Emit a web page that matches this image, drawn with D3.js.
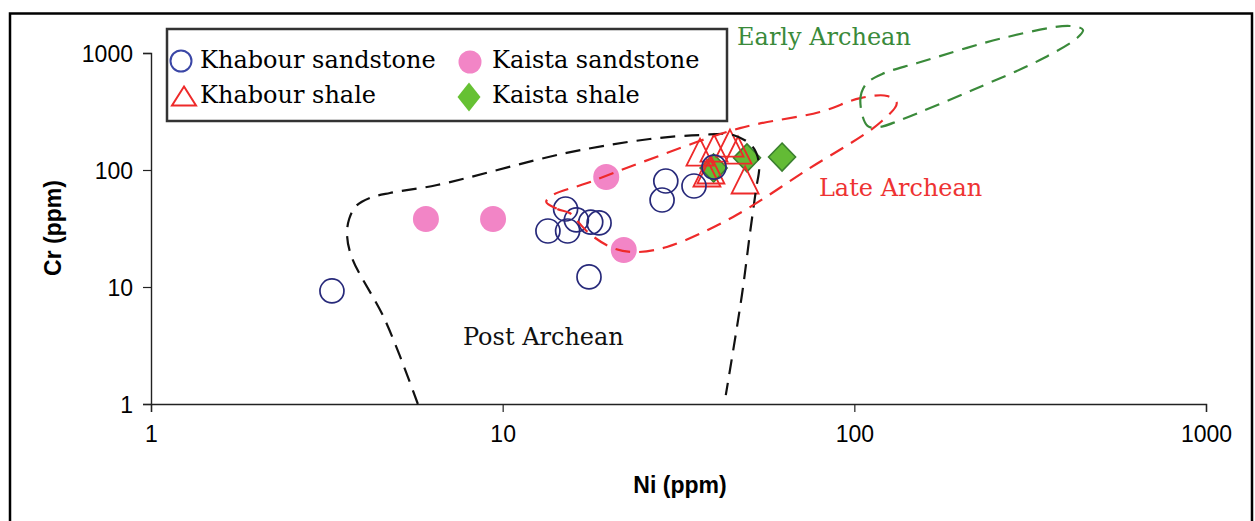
<!DOCTYPE html>
<html>
<head>
<meta charset="utf-8">
<script src="https://cdn.jsdelivr.net/npm/d3@7"></script>
<style>
  body { margin: 0; background: #fff; }
  svg { display: block; }
</style>
</head>
<body>
<svg id="chart"></svg>
<script>
// chart values
const khabourSandstoneNi = [3.27, 13.45, 15.1, 15.3, 16.2, 17.8, 18.8, 17.6, 29.1, 28.4, 35.0, 39.9];
const khabourSandstoneCr = [9.25, 30.1, 46.4, 30.1, 37.4, 35.9, 35.3, 12.2, 80.5, 55.4, 73.0, 106];
const kaistaSandstoneNi = [6.05, 9.39, 19.7, 22.1];
const kaistaSandstoneCr = [38.1, 38.1, 87.2, 20.7];
const khabourShaleNi = [36.4, 39.9, 44.3, 46.7, 38.1, 39.1, 48.9];
const khabourShaleCr = [142, 154, 170, 148, 94.3, 100, 82.1];
const kaistaShaleNi = [39.8, 49.5, 62.3];
const kaistaShaleCr = [104, 127, 129];

// field outlines (Ni, Cr)
const postArcheanNi = [5.74, 4.63, 3.73, 3.61, 3.66, 3.83, 4.19, 4.78, 6.51, 15.2, 26.2, 36.4, 45.2, 51.5, 53.6, 52.5, 50.5, 47.9, 43.1];
const postArcheanCr = [1.0, 5.22, 17.7, 27.8, 38.1, 49.2, 57.6, 63.6, 74.4, 140, 184, 199, 199, 157, 110, 67.5, 28.9, 8.54, 1.19];
const lateArcheanNi = [13.3, 14.3, 15.5, 16.4, 17.7, 20.6, 23.8, 29.3, 45.2, 73.3, 118, 132, 124, 104, 79.8, 47.3, 24.6, 17.4, 13.9];
const lateArcheanCr = [53.3, 46.4, 42.9, 35.9, 28.4, 21.5, 19.9, 22.0, 39.7, 100, 252, 374, 429, 412, 313, 228, 115, 77.4, 61.2];
const earlyArcheanNi = [109, 104, 108, 120, 151, 272, 410, 447, 430, 337, 217, 135, 118];
const earlyArcheanCr = [238, 397, 543, 662, 821, 1370, 1702, 1573, 1343, 871, 483, 267, 233];

const fieldNames = ["Post Archean", "Late Archean", "Early Archean"];
const fieldLabelNi = [7.71, 79.3, 46.4];
const fieldLabelCr = [3.19, 59.9, 1170];

const seriesNames = ["Khabour sandstone", "Kaista sandstone", "Khabour shale", "Kaista shale"];
const tickValues = [1, 10, 100, 1000];

const width = 1255;
const height = 521;
const svg = d3.select("#chart").attr("width", width).attr("height", height);

const x = d3.scaleLog().domain([1, 1000]).range([151, 1206]);
const y = d3.scaleLog().domain([1, 1000]).range([404, 53]);

const zip = (a, b) => a.map((v, i) => [v, b[i]]);

// outer frame
svg.append("path")
  .attr("d", "M10,521 V13.5 H1252 V521")
  .attr("fill", "none").attr("stroke", "#000").attr("stroke-width", 2.5);

// axes
const xAxis = svg.append("g").attr("transform", "translate(0,404)")
  .call(d3.axisBottom(x).tickValues(tickValues).tickFormat(d3.format("d")).tickSize(8).tickPadding(14));
const yAxis = svg.append("g").attr("transform", "translate(151,0)")
  .call(d3.axisLeft(y).tickValues(tickValues).tickFormat(d3.format("d")).tickSize(8).tickPadding(10));
[xAxis, yAxis].forEach(g => {
  g.select(".domain").attr("stroke", "#222").attr("stroke-width", 1.4);
  g.selectAll(".tick line").attr("stroke", "#222").attr("stroke-width", 1.2);
  g.selectAll(".tick text").attr("fill", "#000")
    .style("font-family", "'Liberation Sans', Arial, sans-serif").style("font-size", "23px");
});
yAxis.selectAll(".tick text").attr("dy", "0.35em");

svg.append("text").text("Ni (ppm)")
  .attr("x", 680).attr("y", 493).attr("text-anchor", "middle")
  .style("font-family", "'Liberation Sans', Arial, sans-serif").style("font-size", "23px").style("font-weight", "bold");
svg.append("text").text("Cr (ppm)")
  .attr("transform", "translate(61,228) rotate(-90)").attr("text-anchor", "middle")
  .style("font-family", "'Liberation Sans', Arial, sans-serif").style("font-size", "23px").style("font-weight", "bold");

// markers
const navy = "#27297a";
const red = "#ee2a2a";
const pink = "#f285c6";
const green = "#63bb35";
const darkGreen = "#3a7f2e";

const diamond = (w, h) => `M0,${-h / 2} L${w / 2},0 L0,${h / 2} L${-w / 2},0 Z`;
const triangle = (w, h) => `M0,${-h / 2} L${w / 2},${h / 2} L${-w / 2},${h / 2} Z`;

svg.append("g").selectAll("path").data(zip(kaistaShaleNi, kaistaShaleCr)).enter().append("path")
  .attr("d", diamond(27, 28))
  .attr("transform", d => `translate(${x(d[0])},${y(d[1])})`)
  .attr("fill", green).attr("stroke", darkGreen).attr("stroke-width", 1.6);

svg.append("g").selectAll("circle").data(zip(kaistaSandstoneNi, kaistaSandstoneCr)).enter().append("circle")
  .attr("cx", d => x(d[0])).attr("cy", d => y(d[1])).attr("r", 13)
  .attr("fill", pink);

svg.append("g").selectAll("path").data(zip(khabourShaleNi, khabourShaleCr)).enter().append("path")
  .attr("d", triangle(27, 27))
  .attr("transform", d => `translate(${x(d[0])},${y(d[1])})`)
  .attr("fill", "none").attr("stroke", red).attr("stroke-width", 1.8);

svg.append("g").selectAll("circle").data(zip(khabourSandstoneNi, khabourSandstoneCr)).enter().append("circle")
  .attr("cx", d => x(d[0])).attr("cy", d => y(d[1])).attr("r", 12)
  .attr("fill", "none").attr("stroke", navy).attr("stroke-width", 1.7);

// fields
const openLine = d3.line().x(d => x(d[0])).y(d => y(d[1])).curve(d3.curveCatmullRom.alpha(0.5));
const closedLine = d3.line().x(d => x(d[0])).y(d => y(d[1])).curve(d3.curveCatmullRomClosed.alpha(0.5));

svg.append("path").attr("d", openLine(zip(postArcheanNi, postArcheanCr)))
  .attr("fill", "none").attr("stroke", "#111").attr("stroke-width", 2.2).attr("stroke-dasharray", "15,9");
svg.append("path").attr("d", closedLine(zip(lateArcheanNi, lateArcheanCr)))
  .attr("fill", "none").attr("stroke", "#ee2a2a").attr("stroke-width", 2.2).attr("stroke-dasharray", "15,9");
svg.append("path").attr("d", closedLine(zip(earlyArcheanNi, earlyArcheanCr)))
  .attr("fill", "none").attr("stroke", "#3a8a3a").attr("stroke-width", 2.2).attr("stroke-dasharray", "15,9");

const fieldColors = ["#111", "#ee3333", "#3a8a3a"];
svg.append("g").selectAll("text").data(fieldNames).enter().append("text")
  .text(d => d)
  .attr("x", (d, i) => x(fieldLabelNi[i])).attr("y", (d, i) => y(fieldLabelCr[i]))
  .attr("fill", (d, i) => fieldColors[i])
  .style("font-family", "'DejaVu Serif', serif").style("font-size", "24px");

// legend
const legend = svg.append("g");
legend.append("rect").attr("x", 167).attr("y", 29).attr("width", 560).attr("height", 92)
  .attr("fill", "#fff").attr("stroke", "#333").attr("stroke-width", 2.5);
legend.append("circle").attr("cx", 181).attr("cy", 61).attr("r", 10.5)
  .attr("fill", "none").attr("stroke", "#3a46a6").attr("stroke-width", 2);
legend.append("path").attr("d", triangle(24, 19)).attr("transform", "translate(184,96)")
  .attr("fill", "none").attr("stroke", red).attr("stroke-width", 2);
legend.append("circle").attr("cx", 470).attr("cy", 62).attr("r", 11.5).attr("fill", pink);
legend.append("path").attr("d", diamond(23, 29)).attr("transform", "translate(469,97)")
  .attr("fill", "#66c133");
const legendX = [200, 492, 200, 492];
const legendY = [68, 68, 103, 103];
const legendOrder = [0, 1, 2, 3];
legend.selectAll("text").data(legendOrder).enter().append("text")
  .text(i => seriesNames[i])
  .attr("x", i => legendX[i]).attr("y", i => legendY[i])
  .style("font-family", "'DejaVu Serif', serif").style("font-size", "24px");
</script>
</body>
</html>
